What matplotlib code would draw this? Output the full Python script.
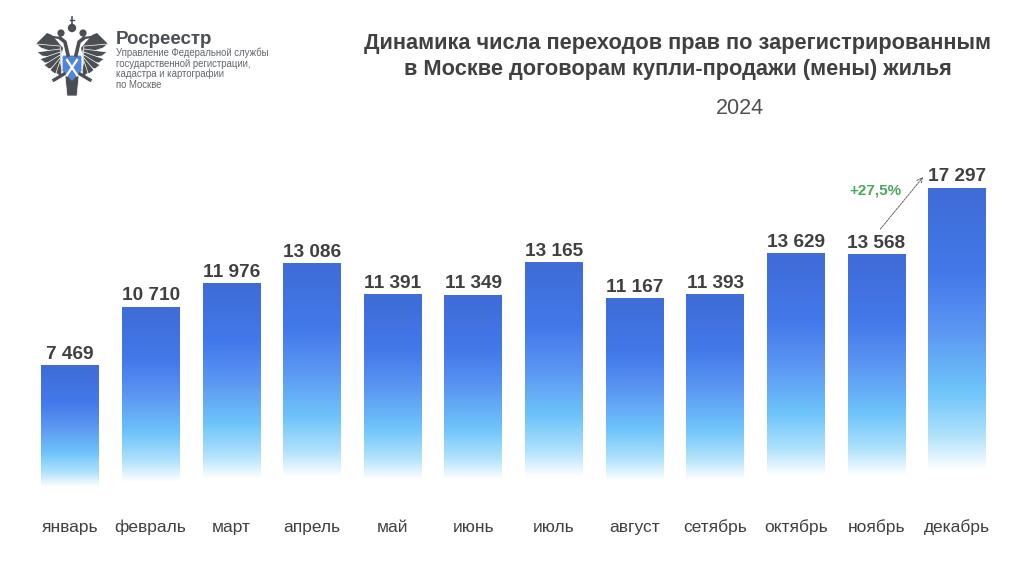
import matplotlib
matplotlib.use('Agg')
import matplotlib.pyplot as plt
import numpy as np
from matplotlib.colors import LinearSegmentedColormap
from matplotlib.patches import Polygon, Circle, FancyBboxPatch

plt.rcParams['font.family'] = ['Liberation Sans', 'DejaVu Sans']

# Data for 2024
months = ['январь', 'февраль', 'март', 'апрель', 'май', 'июнь', 'июль',
          'август', 'сетябрь', 'октябрь', 'ноябрь', 'декабрь']
values = [7469, 10710, 11976, 13086, 11391, 11349, 13165, 11167, 11393, 13629, 13568, 17297]
value_labels = ['7 469', '10 710', '11 976', '13 086', '11 391', '11 349', '13 165',
                '11 167', '11 393', '13 629', '13 568', '17 297']

W, H = 1024, 581
fig = plt.figure(figsize=(W / 100, H / 100), dpi=100)

# chart axes: one category = 80.6 px, zero line at y=501 px, 1 unit = 0.01811 px
left = 70 - 40.3
right = 957 + 40.3
bottom_px = 501
top_px = 130
ax = fig.add_axes([left / W, 1 - bottom_px / H, (right - left) / W, (bottom_px - top_px) / H])
ax.axis('off')

grad = LinearSegmentedColormap.from_list('bar', [
    (0.0, '#3f6cd6'), (0.30, '#4378ea'), (0.50, '#5b96f2'),
    (0.72, '#6ec4fa'), (0.88, '#b0e2fc'), (1.0, '#ffffff')])
img = np.linspace(0, 1, 256).reshape(-1, 1)

bar_w = 57.5 / 80.6
for i, v in enumerate(values):
    # bars fade out to white a little above the zero line
    ax.imshow(img, cmap=grad, aspect='auto', vmin=0, vmax=1, interpolation='bilinear',
              extent=(i - bar_w / 2, i + bar_w / 2, v * 0.1, v))
    ax.text(i, v + 170, value_labels[i], ha='center', va='bottom', fontsize=13.7,
            fontweight='bold', color='#404040')
    ax.text(i, -1712, months[i], ha='center', va='baseline', fontsize=12.5,
            color='#404040', clip_on=False)
ax.set_xlim(-0.5, 11.5)
ax.set_ylim(0, (bottom_px - top_px) / 0.01811)

# growth arrow nov -> dec
ax.annotate('', xy=(10.58, 17890), xytext=(10.05, 15020),
            arrowprops=dict(arrowstyle='->', color='#606060', lw=0.7, ls=(0, (2, 1.2)),
                            shrinkA=0, shrinkB=0))
ax.text(9.99, 17170, '+27,5%', ha='center', va='center', fontsize=11,
        fontweight='bold', color='#4ea65e')

# titles
fig.text(678 / W, 1 - 43 / H, 'Динамика числа переходов прав по зарегистрированным',
         ha='center', va='center', fontsize=15.7, fontweight='bold', color='#404040')
fig.text(678 / W, 1 - 69 / H, 'в Москве договорам купли-продажи (мены) жилья',
         ha='center', va='center', fontsize=15.7, fontweight='bold', color='#404040')
fig.text(740 / W, 1 - 108 / H, '2024', ha='center', va='center', fontsize=15.5, color='#505050')

# logo text
fig.text(116 / W, 1 - 39 / H, 'Росреестр', ha='left', va='center', fontsize=13.5,
         fontweight='bold', color='#4a4f55')
logo_lines = ['Управление Федеральной службы', 'государственной регистрации,',
              'кадастра и картографии', 'по Москве']
for n, line in enumerate(logo_lines):
    fig.text(116 / W, 1 - (56 + n * 10.7) / H, line, ha='left', va='baseline', fontsize=6.9,
             color='#62676c')

# emblem in pixel coordinates
lg = fig.add_axes([0, 0, 1, 1], zorder=5)
lg.set_xlim(0, W)
lg.set_ylim(H, 0)
lg.axis('off')
dark = '#4b4f54'
cx = 72
for s in (-1, 1):
    # upper wing
    lg.add_patch(Polygon([(cx + s * 9, 48), (cx + s * 20, 35), (cx + s * 25, 33), (cx + s * 36, 44),
                          (cx + s * 20, 46), (cx + s * 11, 56)], closed=True, fc=dark, ec='none'))
    # wing feathers
    for k, (dx, dy) in enumerate([(36, 44), (35, 52), (32, 59), (28, 65), (22, 70), (16, 73)]):
        root = 46 + k * 3
        lg.add_patch(Polygon([(cx + s * 12, root), (cx + s * dx, dy), (cx + s * (dx - 5), dy + 4),
                              (cx + s * 10, root + 9)], closed=True, fc=dark, ec='white', lw=0.5))
    # necks and heads
    lg.plot([cx + s * 4, cx + s * 7, cx + s * 12], [55, 42, 38], color=dark, lw=2.6)
    lg.plot([cx + s * 12, cx + s * 19, cx + s * 23], [38, 37, 42], color=dark, lw=1.6)
    # side crowns
    lg.add_patch(Circle((cx + s * 11, 33), 3.6, fc=dark, ec='none'))
    # legs
    lg.plot([cx + s * 8, cx + s * 18], [74, 80], color=dark, lw=2.4)
lg.add_patch(Circle((cx, 28), 4.2, fc=dark, ec='none'))
lg.plot([cx, cx], [17, 26], color=dark, lw=1.2)
lg.plot([cx - 2, cx + 2], [20, 20], color=dark, lw=1.0)
# tail
lg.add_patch(Polygon([(cx - 7, 76), (cx + 7, 76), (cx + 5, 96), (cx - 5, 96)],
                     closed=True, fc=dark, ec='white', lw=0.5))
# shield
lg.add_patch(FancyBboxPatch((cx - 10, 55), 20, 17, boxstyle='round,pad=0,rounding_size=2',
                            fc='#4f86d9', ec='white', lw=0.8))
lg.add_patch(Polygon([(cx - 10, 70), (cx + 10, 70), (cx, 81)], closed=True, fc='#4f86d9',
                     ec='none'))
lg.plot([cx - 5, cx + 5], [60, 75], color='white', lw=1.6)
lg.plot([cx + 5, cx - 5], [60, 75], color='white', lw=1.6)

fig.savefig('out.png', dpi=100, facecolor='white')
